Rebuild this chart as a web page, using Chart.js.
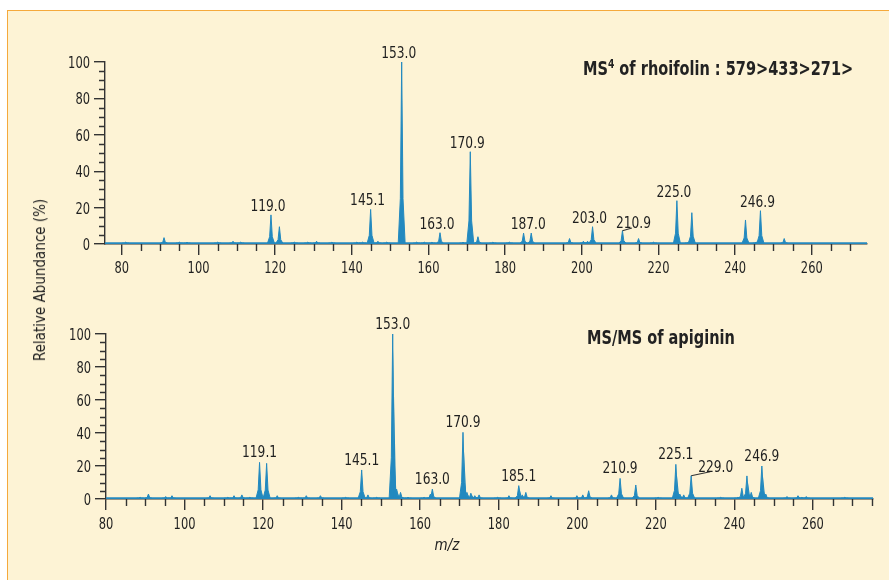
<!DOCTYPE html>
<html>
<head>
<meta charset="utf-8">
<script src="https://cdn.jsdelivr.net/npm/chart.js@4.4.0/dist/chart.umd.min.js"></script>
<style>
  body { margin: 0; width: 889px; height: 580px; overflow: hidden; position: relative; background: #fff;
         font-family: "Liberation Sans Narrow", "DejaVu Sans Condensed", sans-serif; color: #222; }
  #frame { position: absolute; left: 7px; top: 10px; width: 900px; height: 600px; background: #fdf3d5;
           border-left: 1.5px solid #f5a93c; border-top: 1.5px solid #f5a93c; }
  canvas { position: absolute; left: 0; }
  #top { top: 0; }
  #bottom { top: 290px; }
  .title { position: absolute; font-weight: bold; font-size: 19px; line-height: 19px; white-space: nowrap;
           transform: scaleX(0.85); transform-origin: left center; }
  .title sup { font-size: 12px; line-height: 0; vertical-align: 7px; }
  #ytitle { position: absolute; left: 40px; top: 280px; font-size: 15px; white-space: nowrap;
            transform: translate(-50%, -50%) rotate(-90deg); }
  #xtitle { position: absolute; left: 447px; top: 545px; font-size: 15px; font-style: italic;
            transform: translate(-50%, -50%); }
</style>
</head>
<body>
<div id="frame"></div>
<canvas id="top" width="889" height="290"></canvas>
<canvas id="bottom" width="889" height="290"></canvas>
<div class="title" style="left:583px; top:59px;">MS<sup>4</sup> of rhoifolin : 579&gt;433&gt;271&gt;</div>
<div class="title" style="left:587px; top:328px;">MS/MS of apiginin</div>
<div id="ytitle">Relative Abundance (%)</div>
<div id="xtitle">m/z</div>
<script>
// tick labels
const xTickLabels = [80, 100, 120, 140, 160, 180, 200, 220, 240, 260];
const yTickLabels = [0, 20, 40, 60, 80, 100];

// MS4 of rhoifolin : peak m/z and relative abundance (%)
const rhoMz = [81, 91, 95, 97, 105, 109, 111, 118.9, 121.1, 125, 128.5, 130.8, 134.8, 141.3, 142.8,
  144.9, 146.8, 149.1, 153.0, 156.9, 158.9, 160.9, 163.0, 169, 170.9, 172.9, 176.8, 181.1, 184.8, 186.8,
  196.8, 200.4, 201.5, 202.8, 210.6, 214.8, 218.7, 224.8, 227.8, 228.7, 242.7, 245.5, 246.6, 252.8];
const rhoAbund = [1, 3.5, 1, 1, 1, 1.5, 1, 16, 9.5, 1, 1, 1.5, 1, 1, 1,
  19, 1.5, 1, 100, 1, 1, 1, 6.2, 1, 50.7, 4, 1, 1, 6, 6,
  3, 1.5, 1.5, 9.5, 7.3, 3, 1, 23.8, 1, 17.2, 13.2, 1, 18.3, 3];
const rhoLabels = [119.0, 145.1, 153.0, 163.0, 170.9, 187.0, 203.0, 210.9, 225.0, 246.9];

// MS/MS of apiginin
const apiMz = [88.7, 90.8, 95.2, 96.8, 106.5, 111, 112.6, 114.6, 116.6, 119.1, 120.9, 123.6, 129, 131, 134.6,
  141, 145.1, 146.7, 148.9, 153.0, 154, 155, 156.9, 161, 162.6, 163.1, 170.9, 171.9, 172.9, 173.9, 175,
  179.7, 182.6, 185.1, 186, 186.9, 193.3, 199.9, 201.4, 202.9, 208.7, 210.9, 214.9, 220.6, 225.1, 226.1,
  227.1, 229.0, 236.5, 240.9, 241.9, 243.2, 244.3, 247.0, 248, 253.4, 256.2, 257.2, 258.3, 268.1];
const apiAbund = [1, 3, 1.5, 2, 2, 1, 2, 2.5, 1, 22.2, 21.6, 2, 1, 2, 2,
  1, 17.6, 2.5, 1, 100, 6, 4, 1, 1, 3, 6, 40.4, 4, 3.5, 2, 2.5,
  1, 2, 8.1, 2.5, 4, 2, 2, 2.5, 5, 2.5, 12.5, 8.5, 1, 21, 3,
  2.5, 14.1, 1, 1, 6.5, 14, 4, 20, 3, 1.5, 2, 1, 1.5, 1];
const apiLabels = [119.1, 145.1, 153.0, 163.0, 170.9, 185.1, 210.9, 225.1, 229.0, 246.9];

const BLUE = '#2389bf';
const AXIS = '#333333';
const INK = '#1f1f1f';
const FONT = '"Liberation Sans Narrow", "DejaVu Sans Condensed", sans-serif';
const BASE = 0.5;
const NARROW = 0.85;   // squeeze text to look like a condensed face

// one narrow filled spike per peak, separated by gaps
function spikes(mz, ab) {
  const pts = [];
  mz.forEach((m, i) => {
    const h = ab[i];
    pts.push({x: m - 0.9, y: BASE}, {x: m - 0.35, y: Math.max(BASE, h * 0.25)}, {x: m, y: h},
             {x: m + 0.35, y: Math.max(BASE, h * 0.25)}, {x: m + 0.9, y: BASE}, {x: m + 0.9, y: null});
  });
  return pts;
}

function narrowText(ctx, text, x, y) {
  ctx.save();
  ctx.translate(x, y);
  ctx.scale(NARROW, 1);
  ctx.fillText(text, 0, 0);
  ctx.restore();
}

const decor = {
  id: 'decor',
  afterDraw(chart, args, o) {
    const {ctx, scales: {x, y}} = chart;
    ctx.save();
    ctx.strokeStyle = AXIS;
    ctx.lineWidth = 1.4;
    ctx.beginPath();
    for (let v = 85; v <= x.max; v += 5) {
      if (v % 20 === 0) continue;
      const px = Math.round(x.getPixelForValue(v)) + 0.5;
      ctx.moveTo(px, y.bottom); ctx.lineTo(px, y.bottom + 7);
    }
    for (let v = 5; v < 100; v += 5) {
      if (v % 20 === 0) continue;
      const py = Math.round(y.getPixelForValue(v)) + 0.5;
      ctx.moveTo(x.left, py); ctx.lineTo(x.left - 6, py);
    }
    ctx.stroke();

    // tick labels from the scales
    ctx.fillStyle = INK;
    ctx.font = '15px ' + FONT;
    ctx.textBaseline = 'alphabetic';
    ctx.textAlign = 'center';
    x.ticks.forEach(t => narrowText(ctx, String(t.label ?? t.value), x.getPixelForValue(t.value), y.bottom + o.xLab));
    ctx.textAlign = 'right';
    y.ticks.forEach(t => narrowText(ctx, String(t.label ?? t.value), x.left - 15, y.getPixelForValue(t.value) + 6));

    // peak labels
    ctx.font = '16px ' + FONT;
    ctx.textAlign = 'center';
    o.labels.forEach(lab => {
      let best = -1;
      o.mz.forEach((m, i) => {
        if (Math.abs(m - lab) <= 0.7 && (best < 0 || o.ab[i] > o.ab[best] ||
            (o.ab[i] === o.ab[best] && Math.abs(m - lab) < Math.abs(o.mz[best] - lab)))) best = i;
      });
      const px = x.getPixelForValue(o.mz[best]);
      const py = y.getPixelForValue(o.ab[best]);
      const text = lab.toFixed(1);
      const lead = o.leaders[text];
      if (lead) {
        ctx.beginPath();
        ctx.lineWidth = 1.2;
        ctx.moveTo(px, py);
        ctx.lineTo(px + lead.len, py - lead.lift);
        ctx.stroke();
        narrowText(ctx, text, px + lead.dx, py - lead.lift);
      } else {
        narrowText(ctx, text, px + o.dx, py - o.gap);
      }
    });
    ctx.restore();
  }
};

function makeChart(id, mz, ab, labels, xr, area, dx, gap, leaders) {
  return new Chart(document.getElementById(id), {
    type: 'line',
    data: {
      datasets: [
        { data: [{x: xr[0], y: BASE}, {x: xr[1], y: BASE}], borderColor: BLUE, borderWidth: 1.8,
          pointRadius: 0, fill: false, clip: false },
        { data: spikes(mz, ab), borderColor: BLUE, backgroundColor: BLUE, borderWidth: 1,
          pointRadius: 0, fill: 'origin', spanGaps: false, tension: 0, clip: false }
      ]
    },
    options: {
      responsive: false,
      animation: false,
      events: [],
      layout: { padding: { left: 0, right: area.right, top: area.top, bottom: 0 } },
      plugins: {
        legend: { display: false },
        tooltip: { enabled: false },
        decor: { mz, ab, labels, dx, gap, leaders, xLab: area.xLab }
      },
      scales: {
        x: {
          type: 'linear', min: xr[0], max: xr[1],
          afterBuildTicks: s => { s.ticks = xTickLabels.map(v => ({value: v})); },
          afterFit: s => { s.height = area.xh; },
          grid: { drawOnChartArea: false, drawTicks: true, tickLength: 11, color: AXIS, lineWidth: 1.4 },
          border: { display: true, color: AXIS, width: 1.4 },
          ticks: { display: false }
        },
        y: {
          type: 'linear', min: 0, max: 100,
          afterBuildTicks: s => { s.ticks = yTickLabels.map(v => ({value: v})); },
          afterFit: s => { s.width = area.left; },
          grid: { drawOnChartArea: false, drawTicks: true, tickLength: 11, color: AXIS, lineWidth: 1.4 },
          border: { display: true, color: AXIS, width: 1.4 },
          ticks: { display: false }
        }
      }
    },
    plugins: [decor]
  });
}

makeChart('top', rhoMz, rhoAbund, rhoLabels, [75.6, 274.4],
  { left: 105, right: 22, top: 62, xh: 46, xLab: 29 }, -3, 4,
  { '210.9': { dx: 11, lift: 2.7, len: 9.5 } });
makeChart('bottom', apiMz, apiAbund, apiLabels, [80, 275.3],
  { left: 106, right: 16, top: 44, xh: 81, xLab: 30 }, 0, 5,
  { '229.0': { dx: 24.5, lift: 4, len: 19 } });
</script>
</body>
</html>
